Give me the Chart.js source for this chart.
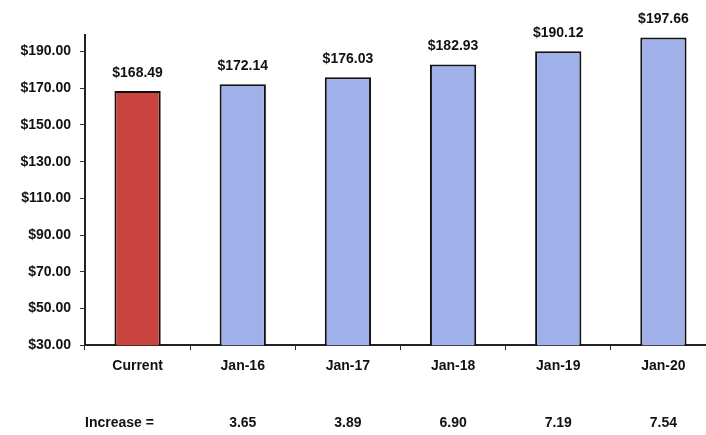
<!DOCTYPE html>
<html>
<head>
<meta charset="utf-8">
<script src="https://cdn.jsdelivr.net/npm/chart.js@4"></script>
<style>
html,body{margin:0;padding:0;background:#fff;overflow:hidden;}
#wrap{width:718px;height:435px;position:relative;}
</style>
</head>
<body>
<div id="wrap"><canvas id="c" width="718" height="435"></canvas></div>
<script>
const categories = ["Current", "Jan-16", "Jan-17", "Jan-18", "Jan-19", "Jan-20"];
const values = [168.49, 172.14, 176.03, 182.93, 190.12, 197.66];
const increases = ["", "3.65", "3.89", "6.90", "7.19", "7.54"];
const increaseLabel = "Increase =";
const yTicks = [30, 50, 70, 90, 110, 130, 150, 170, 190];
const barColors = ["#c9433f", "#a0b0e8", "#a0b0e8", "#a0b0e8", "#a0b0e8", "#a0b0e8"];

const FONT = "'Liberation Sans', Arial, sans-serif";

const labelsPlugin = {
  id: "labelsPlugin",
  afterDatasetsDraw(chart) {
    const ctx = chart.ctx;
    const meta = chart.getDatasetMeta(0);
    ctx.save();
    ctx.fillStyle = "#111";
    ctx.font = "bold 14px " + FONT;
    ctx.textAlign = "center";
    ctx.textBaseline = "bottom";
    meta.data.forEach((bar, i) => {
      ctx.fillText("$" + values[i].toFixed(2), bar.x, bar.y - 11);
    });
    const xs = chart.scales.x;
    ctx.textBaseline = "middle";
    const rowY = 423;
    increases.forEach((v, i) => {
      if (v) ctx.fillText(v, xs.getPixelForValue(i), rowY);
    });
    ctx.textAlign = "left";
    ctx.fillText(increaseLabel, 85, rowY);
    ctx.restore();
  }
};

new Chart(document.getElementById("c"), {
  type: "bar",
  data: {
    labels: categories,
    datasets: [{
      data: values,
      backgroundColor: barColors,
      borderColor: "#111",
      borderWidth: 2,
      borderSkipped: false,
      barPercentage: 0.44,
      categoryPercentage: 1.0
    }]
  },
  options: {
    responsive: false,
    animation: false,
    layout: { padding: { top: 35, bottom: 52, left: 0, right: 2 } },
    plugins: { legend: { display: false }, tooltip: { enabled: false } },
    scales: {
      x: {
        offset: true,
        grid: { display: true, drawOnChartArea: false, drawTicks: true, tickLength: 5, offset: true, color: "#333" },
        border: { display: true, color: "#222", width: 2 },
        ticks: { color: "#111", font: { family: FONT, size: 14, weight: "bold" }, padding: 8 }
      },
      y: {
        min: 30,
        max: 199,
        afterBuildTicks(scale) { scale.ticks = yTicks.map(v => ({ value: v })); },
        grid: { display: true, drawOnChartArea: false, drawTicks: true, tickLength: 5, color: "#333" },
        border: { display: true, color: "#222", width: 2 },
        ticks: {
          color: "#111",
          font: { family: FONT, size: 14, weight: "bold" },
          padding: 9,
          callback: v => "$" + Number(v).toFixed(2)
        },
        afterFit(scale) { scale.width = 85; }
      }
    }
  },
  plugins: [labelsPlugin]
});
</script>
</body>
</html>
